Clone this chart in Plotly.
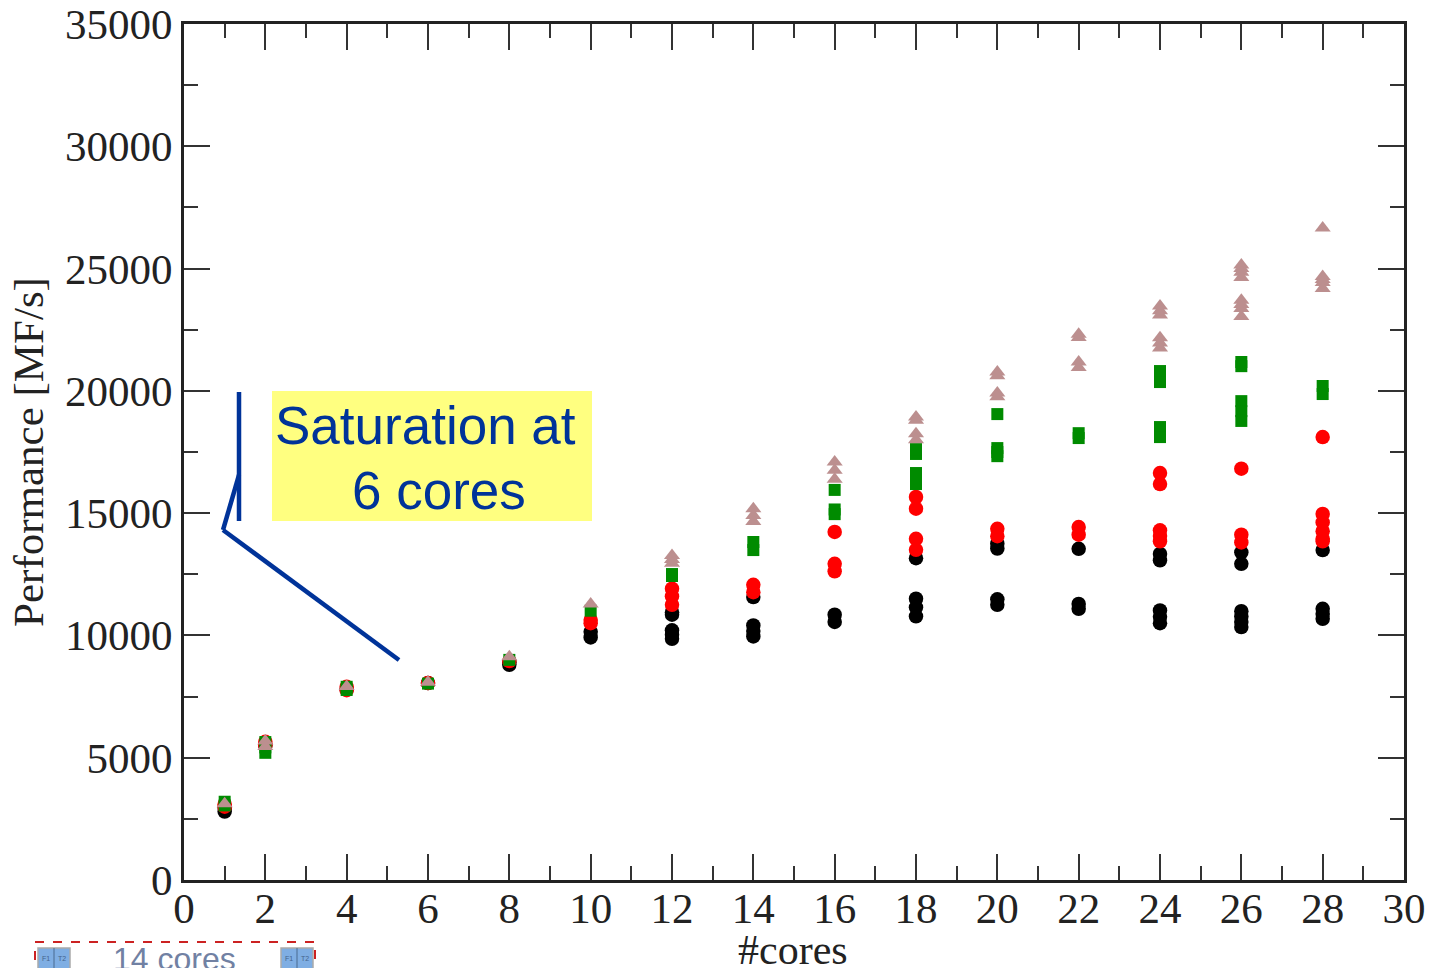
import plotly.graph_objects as go

black_cores = [1,1,2,4,6,8,8,10,10,12,12,12,12,12,14,14,14,14,16,16,18,18,18,18,20,20,20,20,22,22,22,
               24,24,24,24,24,26,26,26,26,26,26,28,28,28,28]
black_mf = [2800,2950,5500,7800,8050,8800,8900,9920,10150,9860,10030,10210,10850,10950,9960,10180,10410,11570,
            10550,10850,13160,10780,11150,11500,13550,13750,11250,11475,13540,11090,11290,
            13330,13070,10500,10760,11020,13400,12930,10340,10550,10770,10990,13490,10680,10880,11090]
red_cores = [1,1,2,2,4,4,6,8,10,10,12,12,12,14,14,16,16,16,18,18,18,18,20,20,22,22,
             24,24,24,24,24,26,26,26,28,28,28,28,28,28]
red_mf = [3000,3100,5500,5650,7760,7900,8050,8950,10500,10630,11250,11600,11910,11770,12070,14230,
          12620,12930,15660,15180,13950,13500,14360,14060,14430,14120,16640,16190,14300,14070,13850,
          16820,14120,13800,18110,14970,14620,14260,13950,13850]
green_cores = [1,1,2,2,2,4,4,6,8,10,12,12,14,14,16,16,16,18,18,18,18,18,20,20,20,20,22,22,
               24,24,24,24,24,24,26,26,26,26,26,28,28]
green_mf = [3050,3200,5200,5420,5640,7770,7900,8030,9000,11010,12430,12510,13490,13820,15950,15150,14960,
            17420,17620,16190,16420,16640,19050,17330,17500,17660,18070,18270,
            20810,20590,20360,18520,18320,18110,21180,21010,19580,19170,18770,20200,19870]
tan_cores = [1,2,2,4,6,8,10,12,12,12,14,14,14,16,16,16,18,18,18,18,20,20,20,20,22,22,22,22,
             24,24,24,24,24,24,26,26,26,26,26,26,26,26,28,28,28,28,28]
tan_mf = [3120,5680,5460,7910,8090,9130,11290,13270,13100,12950,15180,14900,14660,17090,16750,16390,
          18930,18800,18250,18000,20770,20620,19910,19760,22310,22180,21180,20950,
          23470,23280,23100,22170,21960,21750,25150,25000,24850,24630,23700,23530,23370,23040,
          26660,24680,24550,24430,24190]

x_ticks = list(range(0, 31, 2))
y_ticks = list(range(0, 35001, 5000))
x_title = "#cores"
y_title = "Performance [MF/s]"
callout_lines = ["Saturation at", "6 cores"]
footer_label = "14 cores"

W, H = 1439, 968
L, R, T, B = 184, 1404, 24, 880


def to_paper_x(x):
    return (x - L) / (R - L)


def to_paper_y(y):
    return (B - y) / (B - T)


fig = go.Figure()
series = [
    ("black", black_cores, black_mf, "circle", "#000000", 14.5),
    ("red", red_cores, red_mf, "circle", "#FF0000", 14.5),
    ("green", green_cores, green_mf, "square", "#008B00", 12),
    ("tan", tan_cores, tan_mf, "triangle-up", "#BC8F8F", 14),
]
for name, xs, ys, sym, col, size in series:
    fig.add_trace(go.Scatter(x=xs, y=ys, mode="markers", name=name, cliponaxis=False,
                             marker=dict(symbol=sym, color=col, size=size, line=dict(width=0))))

INK = "#222222"
axis_common = dict(
    showgrid=False, zeroline=False, showline=True, mirror="ticks", linecolor=INK, linewidth=3,
    ticks="inside", tickcolor="#333333", tickwidth=1.6, ticklen=26, automargin=False,
    tickfont=dict(family="Liberation Serif", size=43, color=INK),
)
minor_common = dict(ticks="inside", ticklen=14, tickwidth=1.6, tickcolor="#333333")
fig.update_xaxes(range=[0, 30], tickvals=x_ticks, ticktext=[str(v) for v in x_ticks],
                 minor=dict(dtick=1, **minor_common), ticklabelstandoff=-12,
                 **axis_common)
fig.update_yaxes(range=[0, 35000], tickvals=y_ticks, ticktext=[str(v) for v in y_ticks],
                 minor=dict(dtick=2500, **minor_common),
                 title=dict(text=y_title, font=dict(family="Liberation Serif", size=43, color=INK), standoff=8),
                 **axis_common)

BLUE = "#003399"


def rect(x0, y0, x1, y1, **kw):
    return dict(type="rect", xref="paper", yref="paper", x0=to_paper_x(x0), x1=to_paper_x(x1),
                y0=to_paper_y(y1), y1=to_paper_y(y0), **kw)


def line(x0, y0, x1, y1, color, width):
    return dict(type="line", xref="paper", yref="paper", x0=to_paper_x(x0), x1=to_paper_x(x1),
                y0=to_paper_y(y0), y1=to_paper_y(y1), line=dict(color=color, width=width))


shapes = [
    rect(272, 391, 592, 521, fillcolor="#FFFF80", line=dict(width=0), layer="below"),
    line(239, 392, 239, 521, BLUE, 4.5),
    line(239, 475, 223, 530, BLUE, 4.5),
    line(223, 530, 399, 660, BLUE, 4.5),
    rect(35, 942, 315, 985, line=dict(color="#CC2222", width=2, dash="dash")),
]
for x0 in (38, 281):
    shapes.append(rect(x0, 948, x0 + 32, 985, fillcolor="#7FAEE3", line=dict(color="#AAAAAA", width=1.5)))
    shapes.append(line(x0 + 16, 948, x0 + 16, 985, "#4A6A90", 1))

annotations = [
    dict(xref="paper", yref="paper", x=to_paper_x(793), y=to_paper_y(950), text=x_title,
         xanchor="center", yanchor="middle", showarrow=False,
         font=dict(family="Liberation Serif", size=42, color=INK)),
    dict(xref="paper", yref="paper", x=to_paper_x(425), y=to_paper_y(425), text=callout_lines[0],
         xanchor="center", yanchor="middle", showarrow=False,
         font=dict(family="Liberation Sans", size=53, color=BLUE)),
    dict(xref="paper", yref="paper", x=to_paper_x(439), y=to_paper_y(490), text=callout_lines[1],
         xanchor="center", yanchor="middle", showarrow=False,
         font=dict(family="Liberation Sans", size=53, color=BLUE)),
    dict(xref="paper", yref="paper", x=to_paper_x(174.5), y=to_paper_y(959), text=footer_label, showarrow=False,
         xanchor="center", yanchor="middle", font=dict(family="Liberation Sans", size=32, color="#7181A3")),
]
for x0 in (38, 281):
    for dx, t in ((8, "F1"), (24, "T2")):
        annotations.append(dict(xref="paper", yref="paper", x=to_paper_x(x0 + dx), y=to_paper_y(958), text=t,
                                showarrow=False, xanchor="center", yanchor="middle",
                                font=dict(family="Liberation Sans", size=7, color="#44638C")))

fig.update_layout(
    width=W, height=H, margin=dict(l=L, r=W - R, t=T, b=H - B, pad=0),
    paper_bgcolor="white", plot_bgcolor="white", showlegend=False,
    shapes=shapes, annotations=annotations,
)
fig.write_html("out.html", config={"displayModeBar": False},
               post_script="document.body.style.margin='0';document.body.style.overflow='hidden';")
